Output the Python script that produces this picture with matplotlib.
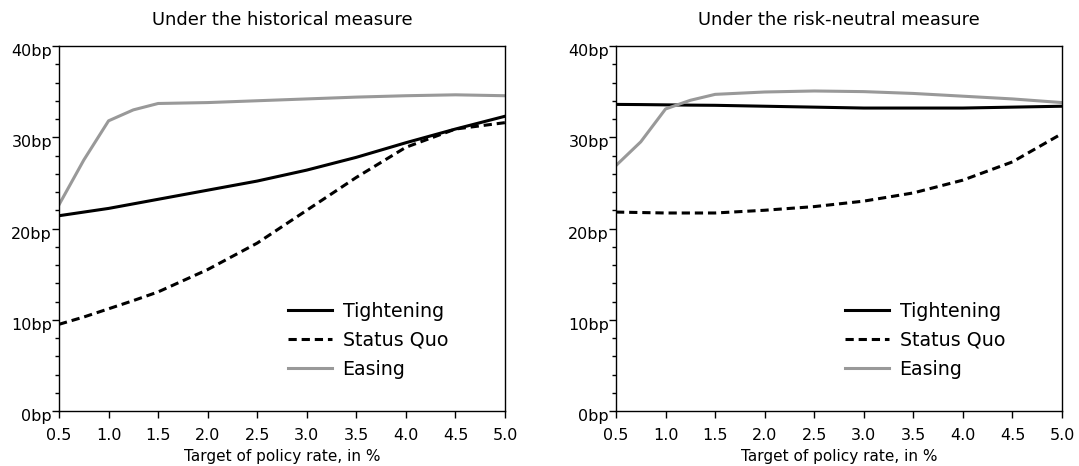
import matplotlib
matplotlib.use("Agg")
import matplotlib.pyplot as plt
import matplotlib.transforms as mtransforms
from matplotlib.ticker import MultipleLocator

x_rate = [0.5, 0.75, 1.0, 1.25, 1.5, 2.0, 2.5, 3.0, 3.5, 4.0, 4.5, 5.0]

# Historical measure
hist_tightening = [21.4, 21.8, 22.2, 22.7, 23.2, 24.2, 25.2, 26.4, 27.8, 29.4, 30.9, 32.3]
hist_status_quo = [9.5, 10.3, 11.2, 12.1, 13.05, 15.5, 18.4, 22.0, 25.6, 28.9, 30.9, 31.6]
hist_easing = [22.6, 27.5, 31.8, 33.0, 33.7, 33.8, 34.0, 34.2, 34.4, 34.55, 34.65, 34.55]

# Risk-neutral measure
rn_tightening = [33.6, 33.58, 33.55, 33.52, 33.5, 33.4, 33.3, 33.2, 33.2, 33.2, 33.3, 33.4]
rn_status_quo = [21.8, 21.75, 21.7, 21.7, 21.7, 22.0, 22.4, 23.0, 23.9, 25.3, 27.3, 30.4]
rn_easing = [26.9, 29.5, 33.1, 34.05, 34.7, 34.96, 35.07, 35.0, 34.8, 34.5, 34.2, 33.8]

titles = ["Under the historical measure", "Under the risk-neutral measure"]
xlabel = "Target of policy rate, in %"
labels = ["Tightening", "Status Quo", "Easing"]
xticks = [0.5, 1.0, 1.5, 2.0, 2.5, 3.0, 3.5, 4.0, 4.5, 5.0]
yticks = [0, 10, 20, 30, 40]

plt.rcParams['font.family'] = ['DejaVu Sans']

fig = plt.figure(figsize=(10.79, 4.66), dpi=100)
ax1 = fig.add_axes([59/1079, 55/466, 446/1079, 365/466])
ax2 = fig.add_axes([616/1079, 55/466, 446/1079, 365/466])

panels = [(ax1, hist_tightening, hist_status_quo, hist_easing),
          (ax2, rn_tightening, rn_status_quo, rn_easing)]

shift_down = mtransforms.ScaledTranslation(0, -4/100, fig.dpi_scale_trans)

for i, (ax, t, s, e) in enumerate(panels):
    ax.plot(x_rate, t, color='black', lw=2.2, label=labels[0])
    ax.plot(x_rate, s, color='black', lw=2.2, ls=(0, (2.7, 1.6)), label=labels[1])
    ax.plot(x_rate, e, color='#999999', lw=2.2, label=labels[2])
    ax.set_xlim(0.5, 5.0)
    ax.set_ylim(0, 40)
    ax.set_xticks(xticks)
    ax.set_xticklabels([f"{v:.1f}" for v in xticks])
    ax.set_yticks(yticks)
    ax.set_yticklabels([f"{v}bp" for v in yticks])
    ax.yaxis.set_minor_locator(MultipleLocator(2))
    ax.tick_params(axis='both', which='major', direction='out', length=5, width=1,
                   labelsize=11.5, top=False, right=False)
    ax.tick_params(axis='x', which='major', pad=7)
    ax.tick_params(axis='y', which='major', pad=0)
    ax.tick_params(axis='y', which='minor', direction='out', length=3, width=1)
    for lbl in ax.get_yticklabels():
        lbl.set_transform(lbl.get_transform() + shift_down)
    for sp in ax.spines.values():
        sp.set_linewidth(1.0)
    ax.set_title(titles[i], fontsize=12.9, pad=15)
    ax.set_xlabel(xlabel, fontsize=11, labelpad=4.5)
    ax.legend(loc='lower left', bbox_to_anchor=(0.513, 0.089), frameon=False,
              borderpad=0, borderaxespad=0,
              fontsize=13.7, handlelength=2.3, handletextpad=0.58, labelspacing=0.52)

fig.savefig("out.png", dpi=100)
